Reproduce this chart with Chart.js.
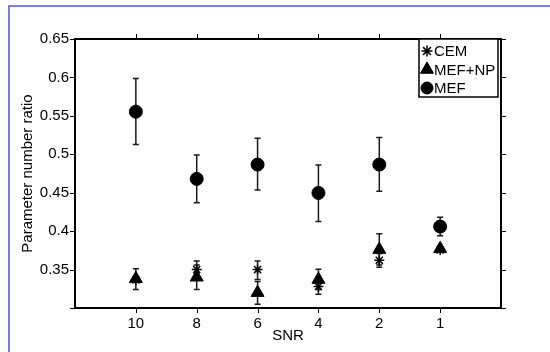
<!DOCTYPE html>
<html>
<head>
<meta charset="utf-8">
<script src="https://cdn.jsdelivr.net/npm/chart.js"></script>
<style>
  html, body { margin: 0; padding: 0; background: #fff; }
  #wrap { width: 550px; height: 352px; position: relative; }
</style>
</head>
<body>
<div id="wrap"><canvas id="chartSnr" width="550" height="352"></canvas></div>
<script>
// SNR categories (x positions 1..6)
const snrLabels = ['10', '8', '6', '4', '2', '1'];
const yTickValues = [0.35, 0.4, 0.45, 0.5, 0.55, 0.6, 0.65];

// CEM
const cemVals = [0.3365, 0.350, 0.350, 0.328, 0.362, 0.3755];
const cemLow  = [0.334, 0.339, 0.337, 0.318, 0.353, 0.374];
const cemHigh = [0.339, 0.361, 0.361, 0.338, 0.371, 0.377];

// MEF+NP
const mefnpVals = [0.338, 0.340, 0.320, 0.337, 0.376, 0.377];
const mefnpLow  = [0.324, 0.324, 0.305, 0.324, 0.356, 0.375];
const mefnpHigh = [0.351, 0.356, 0.3345, 0.3505, 0.3965, 0.379];

// MEF
const mefVals = [0.5555, 0.468, 0.4866, 0.4497, 0.4866, 0.406];
const mefLow  = [0.5126, 0.437, 0.4535, 0.4126, 0.452, 0.394];
const mefHigh = [0.5985, 0.4992, 0.521, 0.4862, 0.5217, 0.418];

const police = "'Liberation Sans', Arial, Helvetica, sans-serif";
const toPoints = vals => vals.map((v, i) => ({ x: i + 1, y: v }));

const barresErreur = [
  { low: cemLow, high: cemHigh },
  { low: mefnpLow, high: mefnpHigh },
  { low: mefLow, high: mefHigh }
];

// error bars, drawn through the scales
const pluginErreurs = {
  id: 'erreurs',
  beforeDatasetsDraw(chart) {
    const { ctx, scales: { x, y } } = chart;
    ctx.save();
    ctx.strokeStyle = '#1a1a1a';
    ctx.lineWidth = 1.5;
    barresErreur.forEach((e, d) => {
      e.low.forEach((lo, i) => {
        const px = x.getPixelForValue(i + 1);
        const y1 = y.getPixelForValue(lo);
        const y2 = y.getPixelForValue(e.high[i]);
        ctx.beginPath();
        ctx.moveTo(px, y1); ctx.lineTo(px, y2);
        ctx.moveTo(px - 3, y1); ctx.lineTo(px + 3, y1);
        ctx.moveTo(px - 3, y2); ctx.lineTo(px + 3, y2);
        ctx.stroke();
      });
    });
    ctx.restore();
  }
};

// frame, outward ticks, legend box, blue page border
const pluginCadre = {
  id: 'cadre',
  afterDraw(chart) {
    const { ctx, chartArea: a, scales: { x, y } } = chart;
    ctx.save();
    ctx.strokeStyle = '#000';
    ctx.lineWidth = 1;
    ctx.beginPath();
    snrLabels.forEach((_, i) => {
      const px = Math.round(x.getPixelForValue(i + 1)) + 0.5;
      ctx.moveTo(px, a.bottom); ctx.lineTo(px, a.bottom + 5);
      ctx.moveTo(px, a.top); ctx.lineTo(px, a.top - 5);
    });
    [0.3].concat(yTickValues).forEach(v => {
      const py = Math.round(y.getPixelForValue(v)) + 0.5;
      ctx.moveTo(a.left, py); ctx.lineTo(a.left - 5, py);
      ctx.moveTo(a.right, py); ctx.lineTo(a.right + 5, py);
    });
    ctx.stroke();

    ctx.lineWidth = 2;
    ctx.strokeRect(a.left, a.top, a.right - a.left, a.bottom - a.top);

    // legend
    const lx = a.right - 82, ly = a.top, lw = 79, lh = 58;
    ctx.fillStyle = '#fff';
    ctx.fillRect(lx, ly, lw, lh);
    ctx.lineWidth = 1.5;
    ctx.strokeStyle = '#000';
    ctx.strokeRect(lx, ly, lw, lh);
    ctx.font = '15px ' + police;
    ctx.textBaseline = 'middle';
    ctx.textAlign = 'left';
    chart.data.datasets.forEach((ds, i) => {
      const cy = ly + 12 + i * 18.5;
      const opts = { pointStyle: ds.pointStyle, radius: ds.legendRadius, rotation: 0, borderWidth: ds.borderWidth };
      ctx.fillStyle = '#000';
      ctx.strokeStyle = '#000';
      ctx.lineWidth = ds.borderWidth;
      if (Chart.helpers && Chart.helpers.drawPoint) {
        Chart.helpers.drawPoint(ctx, opts, lx + 8, cy);
      }
      ctx.fillStyle = '#000';
      ctx.fillText(ds.label, lx + 15, cy + 1);
    });

    // blue border of the figure window
    ctx.strokeStyle = '#7a7aff';
    ctx.lineWidth = 2;
    ctx.beginPath();
    ctx.moveTo(9, 352); ctx.lineTo(9, 6); ctx.lineTo(550, 6);
    ctx.stroke();
    ctx.restore();
  }
};

const ctx = document.getElementById('chartSnr').getContext('2d');
new Chart(ctx, {
  type: 'scatter',
  data: {
    datasets: [
      {
        label: 'CEM',
        data: toPoints(cemVals),
        pointStyle: 'star',
        pointRadius: 5,
        legendRadius: 5.5,
        borderWidth: 1.5,
        borderColor: '#000',
        backgroundColor: '#000'
      },
      {
        label: 'MEF+NP',
        data: toPoints(mefnpVals),
        pointStyle: 'triangle',
        pointRadius: 7.5,
        legendRadius: 7.5,
        borderWidth: 1,
        borderColor: '#000',
        backgroundColor: '#000'
      },
      {
        label: 'MEF',
        data: toPoints(mefVals),
        pointStyle: 'circle',
        pointRadius: 6.5,
        legendRadius: 6,
        borderWidth: 1,
        borderColor: '#000',
        backgroundColor: '#000'
      }
    ]
  },
  options: {
    responsive: false,
    animation: false,
    events: [],
    layout: { padding: { left: 0, top: 39, right: 49, bottom: 0 } },
    plugins: { legend: { display: false }, tooltip: { enabled: false } },
    scales: {
      x: {
        type: 'linear',
        min: 0,
        max: 7,
        afterFit(scale) { scale.height = 44; },
        afterBuildTicks(scale) { scale.ticks = snrLabels.map((_, i) => ({ value: i + 1 })); },
        grid: { display: true, drawOnChartArea: false, drawTicks: false },
        border: { display: false },
        ticks: {
          padding: 7,
          color: '#000',
          font: { family: police, size: 15 },
          maxRotation: 0,
          callback: v => snrLabels[v - 1] || ''
        },
        title: {
          display: true,
          text: 'SNR',
          color: '#000',
          font: { family: police, size: 15 },
          padding: { top: 0, bottom: 7 }
        }
      },
      y: {
        min: 0.3,
        max: 0.65,
        afterFit(scale) { scale.width = 75; },
        afterBuildTicks(scale) { scale.ticks = yTickValues.map(v => ({ value: v })); },
        grid: { display: true, drawOnChartArea: false, drawTicks: false },
        border: { display: false },
        ticks: {
          padding: 6,
          color: '#000',
          font: { family: police, size: 15 },
          callback: v => String(Number(v.toFixed(2)))
        },
        title: {
          display: true,
          text: 'Parameter number ratio',
          color: '#000',
          font: { family: police, size: 15 },
          padding: { top: 19, bottom: 0 }
        }
      }
    }
  },
  plugins: [pluginErreurs, pluginCadre]
});
</script>
</body>
</html>
